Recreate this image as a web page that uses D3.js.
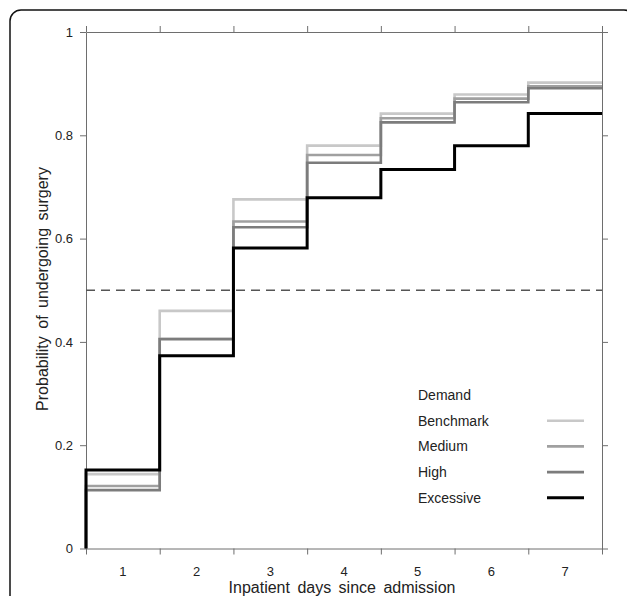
<!DOCTYPE html>
<html>
<head>
<meta charset="utf-8">
<script src="https://cdn.jsdelivr.net/npm/d3@7"></script>
<style>
  body { margin: 0; background: #fff; }
  text { font-family: "Liberation Sans", Arial, sans-serif; fill: #222; }
</style>
</head>
<body>
<script>
// one step value per inpatient day (interval i-1..i)
const days = ['1', '2', '3', '4', '5', '6', '7'];
const seriesNames = ['Benchmark', 'Medium', 'High', 'Excessive'];
const benchmark = [0.144, 0.460, 0.676, 0.780, 0.842, 0.879, 0.902];
const medium = [0.121, 0.406, 0.633, 0.762, 0.833, 0.871, 0.895];
const high = [0.113, 0.405, 0.622, 0.747, 0.825, 0.864, 0.891];
const excessive = [0.152, 0.373, 0.582, 0.679, 0.734, 0.780, 0.842];
const yTicks = [0, 0.2, 0.4, 0.6, 0.8, 1];
const refLine = 0.5;

const colors = ['#c8c8c8', '#a0a0a0', '#7c7c7c', '#000000'];
const widths = [2.6, 2.6, 2.6, 3];
const allSeries = [benchmark, medium, high, excessive];

const W = 627, H = 596;
const margin = { top: 32, left: 86 };
const width = 602 - margin.left;
const height = 548.5 - margin.top;

const svg = d3.select('body').append('svg')
  .attr('width', W)
  .attr('height', H);

// outer rounded frame (runs off the bottom/right edge)
svg.append('rect')
  .attr('x', 10).attr('y', 10)
  .attr('width', 625).attr('height', 640)
  .attr('rx', 11)
  .attr('fill', 'none')
  .attr('stroke', '#111')
  .attr('stroke-width', 1.5);

const g = svg.append('g')
  .attr('transform', `translate(${margin.left}, ${margin.top})`);

const x = d3.scaleLinear().domain([0, 7]).range([0, width]);
const y = d3.scaleLinear().domain([0, 1]).range([height, 0]);

const bounds = d3.range(0, 8);

function styleAxis(sel) {
  sel.attr('font-family', null).attr('font-size', null);
  sel.select('.domain').attr('stroke', '#6e6e6e');
  sel.selectAll('.tick line').attr('stroke', '#6e6e6e');
  sel.selectAll('.tick text')
    .style('font-size', '13px')
    .style('fill', '#222');
}

g.append('g')
  .attr('transform', `translate(0, ${height})`)
  .call(d3.axisBottom(x).tickValues(bounds).tickFormat('').tickSize(6).tickSizeOuter(0))
  .call(styleAxis);

g.append('g')
  .call(d3.axisTop(x).tickValues(bounds).tickFormat('').tickSize(6).tickSizeOuter(0))
  .call(styleAxis);

g.append('g')
  .call(d3.axisLeft(y).tickValues(yTicks).tickFormat(d3.format('')).tickSize(6).tickSizeOuter(0).tickPadding(7))
  .call(styleAxis);

g.append('g')
  .attr('transform', `translate(${width}, 0)`)
  .call(d3.axisRight(y).tickValues(yTicks).tickFormat('').tickSize(6).tickSizeOuter(0))
  .call(styleAxis);

// day labels centred in each interval
g.selectAll('.day-label')
  .data(days)
  .enter()
  .append('text')
  .attr('class', 'day-label')
  .attr('x', (d, i) => x(i + 0.5))
  .attr('y', height + 27)
  .attr('text-anchor', 'middle')
  .style('font-size', '13px')
  .text(d => d);

// dashed 0.5 line
g.append('line')
  .attr('x1', 0).attr('x2', width)
  .attr('y1', y(refLine)).attr('y2', y(refLine))
  .attr('stroke', '#555')
  .attr('stroke-width', 1.3)
  .attr('stroke-dasharray', '9,6');

// step curves, starting at 0
allSeries.forEach((vals, k) => {
  const steps = [[0, 0]];
  vals.forEach((v, i) => {
    steps.push([i, v]);
    steps.push([i + 1, v]);
  });
  g.append('path')
    .datum(steps)
    .attr('fill', 'none')
    .attr('stroke', colors[k])
    .attr('stroke-width', widths[k])
    .attr('d', d3.line().x(d => x(d[0])).y(d => y(d[1])));
});

// legend
const legend = g.append('g')
  .attr('transform', `translate(${418 - margin.left}, ${395 - margin.top})`);

legend.append('text')
  .attr('x', 0).attr('y', 5)
  .style('font-size', '14px')
  .text('Demand');

seriesNames.forEach((name, k) => {
  const yy = 25.7 * (k + 1);
  legend.append('text')
    .attr('x', 0).attr('y', yy + 5)
    .style('font-size', '14px')
    .text(name);
  legend.append('line')
    .attr('x1', 129).attr('x2', 166)
    .attr('y1', yy).attr('y2', yy)
    .attr('stroke', colors[k])
    .attr('stroke-width', widths[k]);
});

// axis titles
svg.append('text')
  .attr('x', 342)
  .attr('y', 593)
  .attr('text-anchor', 'middle')
  .style('font-size', '16px')
  .style('word-spacing', '3px')
  .text('Inpatient days since admission');

svg.append('text')
  .attr('transform', `translate(48, 289) rotate(-90)`)
  .attr('text-anchor', 'middle')
  .style('font-size', '16px')
  .style('word-spacing', '3px')
  .text('Probability of undergoing surgery');
</script>
</body>
</html>
